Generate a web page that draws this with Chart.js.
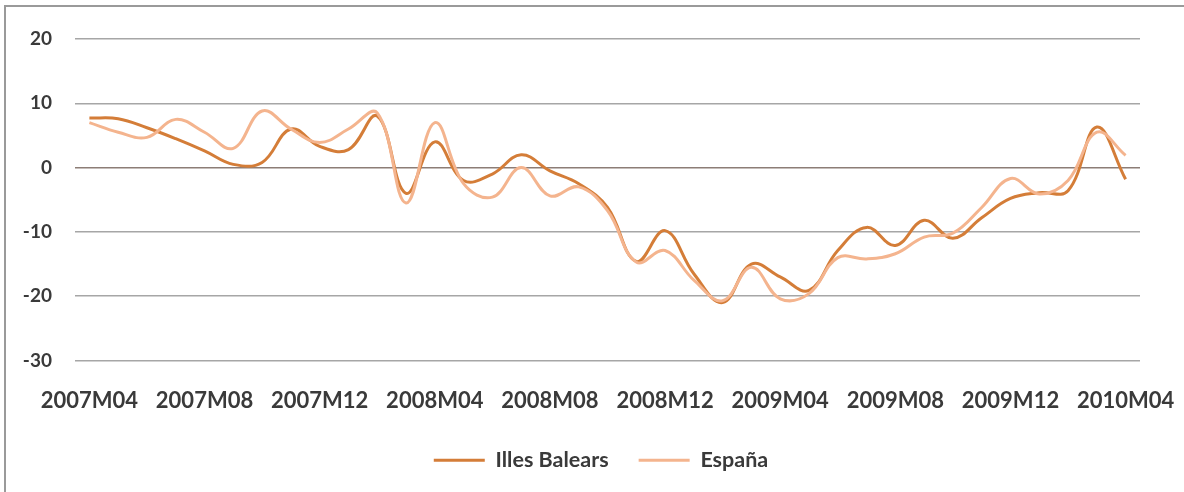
<!DOCTYPE html>
<html>
<head>
<meta charset="utf-8">
<script src="https://cdn.jsdelivr.net/npm/chart.js@4.4.1/dist/chart.umd.min.js"></script>
<style>
  html, body { margin: 0; padding: 0; background: #fff; }
  body { width: 1184px; height: 492px; position: relative; overflow: hidden; }
  #frame {
    position: absolute; left: 4px; top: 5px; width: 1200px; height: 500px;
    border-top: 2px solid #9a9a9a; border-left: 2px solid #9a9a9a;
  }
  #wrap { position: absolute; left: 0; top: 0; width: 1184px; height: 492px; }
</style>
</head>
<body>
<div id="frame"></div>
<div id="wrap"><canvas id="chart"></canvas></div>
<script>
// months shown on the category axis
const months = [
    '2007M04', '2007M05', '2007M06', '2007M07', '2007M08', '2007M09', '2007M10', '2007M11', '2007M12',
    '2008M01', '2008M02', '2008M03', '2008M04', '2008M05', '2008M06', '2008M07', '2008M08', '2008M09',
    '2008M10', '2008M11', '2008M12', '2009M01', '2009M02', '2009M03', '2009M04', '2009M05', '2009M06',
    '2009M07', '2009M08', '2009M09', '2009M10', '2009M11', '2009M12', '2010M01', '2010M02', '2010M03',
    '2010M04'
];

const illesBalears = [
    7.7, 7.6, 6.2, 4.5, 2.6, 0.5, 0.8, 6, 3.3,
    2.8, 8, -4, 4, -2, -1, 2, -0.5, -2.5,
    -6.2, -14.6, -9.8, -16.5, -21, -15, -17, -19.1, -12.9,
    -9.3, -12.1, -8.2, -11, -7.8, -4.8, -3.9, -3.6, 6.3,
    -1.8
];

const espana = [
    7, 5.5, 4.7, 7.5, 5.5, 3, 8.8, 6, 3.9,
    6, 8.5, -5.5, 7, -2.5, -4.6, 0, -4.4, -3,
    -6.7, -14.7, -12.9, -17.5, -20.7, -15.5, -20.4, -19.6, -14,
    -14.2, -13.4, -10.8, -10.2, -6.2, -1.7, -4.1, -2, 5.5,
    1.9
];

const yTicks = [-30, -20, -10, 0, 10, 20];

const textColor = '#3a3a3a';
const fontFamily = 'Lato, "Open Sans", sans-serif';

// the legend sits a little right of the plot's centre in the original
const legendShift = {
    id: 'legendShift',
    afterLayout(chart) {
        if (chart.legend) {
            chart.legend.left += 31;
            chart.legend.right += 31;
        }
    }
};

const ctx = document.getElementById('chart').getContext('2d');
new Chart(ctx, {
    type: 'line',
    data: {
        labels: months,
        datasets: [
            {
                label: 'Illes Balears',
                data: illesBalears,
                borderColor: '#d47d38',
                backgroundColor: '#d47d38',
                borderWidth: 3,
                pointRadius: 0,
                tension: 0.4,
                order: 1
            },
            {
                label: 'España',
                data: espana,
                borderColor: '#f4b48e',
                backgroundColor: '#f4b48e',
                borderWidth: 3,
                pointRadius: 0,
                tension: 0.4,
                order: 0
            }
        ]
    },
    options: {
        responsive: true,
        maintainAspectRatio: false,
        animation: false,
        layout: {
            padding: { left: 0, right: 44, top: 39, bottom: 11 }
        },
        scales: {
            x: {
                offset: true,
                grid: { display: false },
                border: { display: false },
                ticks: {
                    autoSkip: false,
                    maxRotation: 0,
                    minRotation: 0,
                    padding: 19,
                    color: textColor,
                    font: { family: fontFamily, size: 22, weight: 'bold' },
                    callback: function (value, index) {
                        return index % 4 === 0 ? this.getLabelForValue(value) : '';
                    }
                },
                afterFit: (scale) => {
                    scale.height = 59;
                    scale.paddingLeft = 0;
                    scale.paddingRight = 0;
                }
            },
            y: {
                min: -30,
                max: 20,
                afterBuildTicks: (scale) => {
                    scale.ticks = yTicks.map(v => ({ value: v }));
                },
                grid: {
                    drawTicks: false,
                    lineWidth: 1.5,
                    color: (c) => c.tick && c.tick.value === 0 ? '#8c7d76' : '#a6a6a6'
                },
                border: { display: false },
                ticks: {
                    padding: 23,
                    color: textColor,
                    font: { family: fontFamily, size: 19, weight: 'bold' }
                },
                afterFit: (scale) => {
                    scale.width = 75;
                    scale.paddingTop = 0;
                    scale.paddingBottom = 0;
                }
            }
        },
        plugins: {
            legend: {
                position: 'bottom',
                labels: {
                    boxWidth: 51,
                    boxHeight: 3,
                    padding: 30,
                    color: textColor,
                    font: { family: fontFamily, size: 21.5, weight: 'bold' },
                    generateLabels: (chart) => chart.data.datasets.map((ds, i) => ({
                        text: ds.label,
                        fillStyle: ds.borderColor,
                        strokeStyle: ds.borderColor,
                        lineWidth: 0,
                        fontColor: textColor,
                        datasetIndex: i,
                        hidden: false
                    }))
                }
            },
            tooltip: { enabled: false }
        }
    },
    plugins: [legendShift]
});
</script>
</body>
</html>
